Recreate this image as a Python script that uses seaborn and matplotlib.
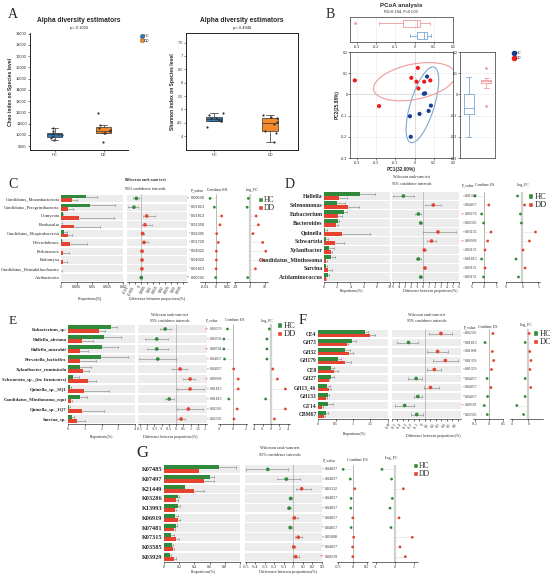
import numpy as np
import pandas as pd
import matplotlib
matplotlib.use('Agg')
import matplotlib.pyplot as plt
import seaborn as sns
from matplotlib.patches import Ellipse, Patch
from matplotlib.lines import Line2D
from matplotlib.transforms import blended_transform_factory as btf

sns.set_theme(style='white')
plt.rcParams['font.family'] = ['Liberation Sans', 'DejaVu Sans']

# ---------------- DATA ----------------
groups = ['HC', 'DD']
chao_hc = [9500, 9700, 9900, 10000, 10100, 10150, 10300, 10650]
chao_dd = [9400, 10150, 10200, 10350, 10400, 10650, 10850, 11950]
shan_hc = [4.33, 4.55, 4.58, 4.62, 4.66, 4.68, 4.79, 4.85]
shan_dd = [3.79, 4.13, 4.19, 4.45, 4.52, 4.66, 4.72, 4.79]
chao_p = 'p= 0.1033'
shan_p = 'p= 0.4948'

pc1_hc = [0.065, 0.048, 0.055, 0.085, 0.073, 0.026, -0.024, -0.020]
pc2_hc = [0.084, 0.003, 0.005, -0.053, -0.078, -0.092, -0.103, -0.200]
pc1_dd = [-0.311, -0.185, 0.017, -0.017, 0.010, 0.050, 0.020, 0.082]
pc2_dd = [0.066, -0.055, 0.125, 0.078, 0.060, 0.060, 0.028, 0.066]

C = dict(
    cats=['Candidatus_Moranbacteriota', 'Candidatus_Peregrinibacteria', 'Oomycota', 'Parabasalia',
          'Candidatus_Shapirobacteria', 'Heterolobosea', 'Perkinsozoa', 'Endomyxa',
          'Candidatus_Heimdallarchaeota', 'Atribacterota'],
    hc=[0.0081, 0.0094, 0.0005, 0.0001, 0.0011, 0.0002, 0.00005, 0.00005, 0.00003, 0.0001],
    hc_sd=[0.0034, 0.0081, 0.0002, 0.0001, 0.0009, 0.0001, 0, 0, 0, 0],
    dd=[0.0037, 0.0022, 0.0059, 0.0043, 0.0022, 0.0028, 0.0007, 0.0007, 0.0001, 0.00003],
    dd_sd=[0.0015, 0.0018, 0.0111, 0.0082, 0.0015, 0.0056, 0.0018, 0.0013, 0.0001, 0],
    diff=[-0.0042, -0.0062, 0.0044, 0.0030, 0.0010, 0.0022, 0.0005, 0.0005, 0.0004, -0.0001],
    lo=[-0.0068, -0.0110, 0.0010, 0.0002, 0.0002, 0.0002, 0.0001, 0.0001, 0.0, -0.0004],
    hi=[-0.0018, -0.0026, 0.0113, 0.0086, 0.0018, 0.0057, 0.0010, 0.0009, 0.0008, 0.0002],
    p=['0.00539', '0.01813', '0.01813', '0.01359', '0.02395', '0.01729', '0.04022', '0.04022', '0.01813', '0.00741'],
    es=[-0.0053, -0.0015, 0.0050, 0.0035, 0.0006, 0.0020, 0.0003, 0.0003, 0.0001, -0.0003],
    lfc=[-1.3, -2.1, 4.0, 5.5, 1.8, 8.4, 10.5, 8.4, 3.5, -1.7],
)
D = dict(
    cats=['Hallella', 'Selenomonas', 'Eubacterium', 'Bacteroides', 'Quinella', 'Schwartzia',
          'Xylanibacter', 'Candidatus_Minthosoma', 'Sarcina', 'Acidaminococcus'],
    hc=[5.5, 1.9, 2.96, 2.1, 0.15, 0.3, 0.77, 1.07, 0.3, 0.56],
    hc_sd=[2.3, 1.3, 0.5, 0.2, 0.25, 0.35, 0.8, 0.6, 0.2, 0.25],
    dd=[2.2, 3.6, 2.1, 1.8, 2.7, 1.7, 1.0, 0.3, 0.66, 0.25],
    dd_sd=[1.3, 1.7, 0.6, 0.35, 4.2, 1.3, 0.25, 0.1, 0.5, 0.1],
    diff=[-3.3, 1.7, -0.8, -0.4, 2.5, 1.4, 0.2, -0.8, 0.3, -0.4],
    lo=[-5.0, 0.3, -1.4, -0.6, 0.0, 0.6, -0.1, -1.2, 0.1, -0.6],
    hi=[-1.5, 3.0, -0.3, -0.2, 5.5, 2.2, 0.5, -0.4, 0.5, -0.2],
    p=['0.01359', '0.04057', '0.00276', '0.02395', '0.03132', '0.00368', '0.03132', '0.01813', '0.03132', '0.03132'],
    es=[-3.9, 1.9, -1.1, -0.3, 2.8, 1.4, 0.3, -1.1, 0.3, -0.3],
    lfc=[-1.5, 0.7, -0.6, -0.3, 4.1, 2.2, 0.2, -2.0, 0.85, -1.2],
)
E = dict(
    cats=['Eubacterium_sp.', 'Hallella_absiana', 'Hallella_mizrahii', 'Prevotella_lacticifex',
          'Xylanibacter_ruminicola', 'Schwartzia_sp._(in: firmicutes)', 'Quinella_sp._SQ1',
          'Candidatus_Minthosoma_equi', 'Quinella_sp._1Q7', 'Sarcina_sp.'],
    hc=[2.56, 2.16, 2.04, 1.96, 0.7, 0.3, 0.1, 0.7, 0.08, 0.24],
    hc_sd=[0.38, 1.0, 0.96, 1.64, 0.7, 0.36, 0.05, 0.44, 0.04, 0.1],
    dd=[1.84, 0.86, 0.7, 0.7, 0.9, 1.2, 0.96, 0.16, 0.86, 0.56],
    dd_sd=[0.36, 0.64, 0.5, 1.0, 0.36, 0.5, 1.5, 0.1, 1.28, 0.44],
    diff=[-0.76, -1.34, -1.34, -1.27, 0.28, 0.97, 0.97, -0.48, 0.85, 0.35],
    lo=[-1.15, -2.15, -2.03, -2.54, -0.3, 0.5, 0.05, -0.8, 0.05, 0.05],
    hi=[-0.35, -0.53, -0.58, 0.0, 0.74, 1.32, 1.9, -0.18, 1.85, 0.62],
    p=['0.00579', '0.03359', '0.00741', '0.04057', '0.04057', '0.00368', '0.01813', '0.01813', '0.02395', '0.02395'],
    es=[-0.85, -1.4, -1.4, -1.3, 0.1, 0.8, 0.8, -0.65, 0.65, 0.15],
    lfc=[-0.4, -1.0, -1.0, -1.0, 0.4, 1.5, 3.4, -1.3, 3.4, 0.8],
)
F = dict(
    cats=['CE4', 'GH73', 'GH32', 'GH179', 'CE8', 'GH27', 'GH13_46', 'GH133', 'GT14', 'CBM67'],
    hc=[1.33, 0.98, 0.78, 0.57, 0.38, 0.36, 0.25, 0.29, 0.29, 0.24],
    hc_sd=[0.11, 0.11, 0.12, 0.1, 0.08, 0.1, 0.1, 0.02, 0.14, 0.05],
    dd=[1.5, 0.83, 0.89, 0.78, 0.46, 0.3, 0.3, 0.24, 0.12, 0.17],
    dd_sd=[0.12, 0.02, 0.11, 0.15, 0.11, 0.02, 0.08, 0.02, 0.02, 0.02],
    diff=[0.29, -0.3, 0.23, 0.37, 0.17, -0.16, 0.1, -0.13, -0.37, -0.15],
    lo=[0.07, -0.5, 0.04, 0.15, 0.04, -0.3, -0.02, -0.2, -0.54, -0.26],
    hi=[0.5, -0.12, 0.41, 0.6, 0.29, -0.05, 0.26, -0.06, -0.2, -0.04],
    p=['0.02395', '0.01813', '0.01008', '0.01359', '0.01359', '0.04057', '0.04057', '0.04057', '0.00539', '0.02395'],
    es=[0.14, -0.14, 0.12, 0.17, 0.09, -0.07, 0.07, -0.05, -0.17, -0.06],
    lfc=[0.1, -0.4, 0.17, 0.33, 0.2, -0.4, 0.3, -0.4, -1.45, -0.6],
)
G = dict(
    cats=['K07485', 'K07497', 'K21449', 'K03286', 'K13993', 'K06919', 'K07481', 'K07315', 'K03585', 'K03929'],
    hc=[0.72, 0.6, 0.28, 0.18, 0.18, 0.15, 0.155, 0.09, 0.1, 0.085],
    hc_sd=[0.23, 0.06, 0.0, 0.02, 0.03, 0.04, 0.01, 0.035, 0.02, 0.01],
    dd=[0.46, 0.53, 0.39, 0.16, 0.15, 0.18, 0.13, 0.16, 0.12, 0.13],
    dd_sd=[0.0, 0.13, 0.13, 0.02, 0.01, 0.03, 0.01, 0.04, 0.01, 0.03],
    diff=[-0.27, -0.075, 0.086, -0.03, -0.045, 0.01, -0.035, 0.05, 0.003, 0.024],
    lo=[-0.5, -0.175, 0.024, -0.045, -0.065, -0.02, -0.05, 0.018, -0.01, 0.0],
    hi=[-0.055, 0.07, 0.18, -0.015, -0.025, 0.045, -0.02, 0.09, 0.015, 0.055],
    p=['0.04057', '0.04057', '0.03132', '0.04057', '0.04057', '0.04057', '0.04057', '0.01008', '0.04057', '0.00539'],
    es=[-0.33, -0.08, 0.08, -0.05, -0.06, 0.01, -0.05, 0.04, 0.005, 0.01],
    lfc=[-0.68, -0.18, 0.44, -0.14, -0.26, 0.21, -0.21, 0.9, 0.26, 0.54],
)

# ---------------- STYLE ----------------
W, H = 550, 579
fig = plt.figure(figsize=(5.5, 5.79), dpi=100)
PAL = {'HC': '#2f8a3b', 'DD': '#e5432f'}
STRIPE = '#ececec'
ERR = '#8a8a8a'
SERIF = 'Liberation Serif'
SANS = 'Liberation Sans'


def add_ax(x0, y0, x1, y1):
    return fig.add_axes([x0 / W, 1 - y1 / H, (x1 - x0) / W, (y1 - y0) / H])


def ftext(x, y, s, **kw):
    kw.setdefault('ha', 'center')
    kw.setdefault('va', 'center')
    fig.text(x / W, 1 - y / H, s, **kw)


def fmt(t):
    return '{:g}'.format(round(t, 4))


def bottom_only(ax, fs=3, family=SANS):
    for s in ['top', 'right', 'left']:
        ax.spines[s].set_visible(False)
    ax.spines['bottom'].set_color('black')
    ax.spines['bottom'].set_linewidth(0.4)
    ax.tick_params(axis='x', length=1.5, width=0.4, labelsize=fs, pad=0.8, color='black', bottom=True)
    ax.tick_params(axis='y', length=0)
    for lbl in ax.get_xticklabels():
        lbl.set_fontfamily(family)
    ax.set_xlabel('')
    ax.set_ylabel('')


def sq_legend(x, y, labels, fs):
    h = [Patch(facecolor=PAL['HC'], label=labels[0]), Patch(facecolor=PAL['DD'], label=labels[1])]
    fig.legend(handles=h, loc='upper left', bbox_to_anchor=(x / W, 1 - y / H), frameon=False,
               prop={'family': SERIF, 'size': fs}, handlelength=0.6, handleheight=0.6,
               handletextpad=0.2, labelspacing=0.05, borderpad=0, borderaxespad=0)


def stamp(d, c):
    cats = d['cats']
    n = len(cats)
    idx = np.arange(n)
    fam = c.get('family', SERIF)
    # ---- bars
    axb = add_ax(*c['bar'])
    for i in idx:
        axb.axhspan(i - 0.42, i + 0.42, color=STRIPE, lw=0, zorder=0)
    df = pd.DataFrame({'cat': cats * 2, 'grp': ['HC'] * n + ['DD'] * n,
                       'val': list(d['hc']) + list(d['dd'])})
    sns.barplot(data=df, y='cat', x='val', hue='grp', hue_order=groups, palette=PAL, orient='h',
                width=0.8, errorbar=None, legend=False, ax=axb, saturation=1, linewidth=0)
    for cont, sd in zip(axb.containers, (d['hc_sd'], d['dd_sd'])):
        for p, s in zip(cont.patches, sd):
            if s <= 0:
                continue
            yc = p.get_y() + p.get_height() / 2
            w = p.get_width()
            axb.plot([w, w + s], [yc, yc], color=ERR, lw=0.45, zorder=3)
            axb.plot([w + s] * 2, [yc - 0.12, yc + 0.12], color=ERR, lw=0.45, zorder=3)
    axb.set_ylim(n - 0.5, -0.5)
    axb.set_xlim(*c['bar_xlim'])
    axb.set_xticks(c['bar_ticks'], [fmt(t) for t in c['bar_ticks']])
    bottom_only(axb, c.get('tfs', 3), fam)
    axb.set_yticks(idx, cats, fontsize=c['cfs'], fontfamily=c.get('cfam', SERIF),
                   fontweight=c.get('cw', 'bold'))
    axb.tick_params(axis='y', pad=1)
    # ---- difference
    axd = add_ax(*c['diff'])
    for i in idx:
        axd.axhspan(i - 0.42, i + 0.42, color=STRIPE, lw=0, zorder=0)
    axd.axvline(0, color='#9a9a9a', lw=0.4, zorder=1)
    diff = np.asarray(d['diff'])
    lo = np.asarray(d['lo'])
    hi = np.asarray(d['hi'])
    axd.hlines(idx, lo, hi, color=ERR, lw=0.45, zorder=2)
    axd.vlines(np.r_[lo, hi], np.r_[idx, idx] - 0.12, np.r_[idx, idx] + 0.12, color=ERR, lw=0.45, zorder=2)
    grp = np.where(diff < 0, 'HC', 'DD')
    sns.scatterplot(x=diff, y=idx, hue=grp, palette=PAL, s=c.get('ms', 7), linewidth=0, legend=False,
                    ax=axd, zorder=4)
    axd.set_ylim(n - 0.5, -0.5)
    axd.set_xlim(*c['diff_xlim'])
    axd.set_yticks([])
    rot = c.get('rot', 0)
    axd.set_xticks(c['diff_ticks'], [fmt(t) for t in c['diff_ticks']])
    bottom_only(axd, c.get('tfs', 3), fam)
    if rot:
        for lbl in axd.get_xticklabels():
            lbl.set_rotation(rot)
            lbl.set_ha('right')
    # ---- p values
    tr = btf(fig.transFigure, axd.transData)
    for i, pv in enumerate(d['p']):
        st = '**' if float(pv) < 0.01 else '*'
        fig.text(c['star_x'] / W, i, st, color='#e5432f', ha='right', va='center', fontsize=c.get('pfs', 3),
                 transform=tr, fontfamily=fam)
        fig.text(c['p_x'] / W, i, pv, color='#333333', ha='left', va='center', fontsize=c.get('pfs', 3),
                 transform=tr, fontfamily=fam)
    # ---- effect size and log fold change
    for key, box, xl, tk, zero_style in (('es', c['es'], c['es_xlim'], c['es_ticks'], 'line'),
                                         ('lfc', c['lfc'], c['lfc_xlim'], c['lfc_ticks'], 'band')):
        ax = add_ax(*box)
        v = np.asarray(d[key])
        if zero_style == 'line':
            ax.axvline(0, color='#9a9a9a', lw=0.5, zorder=1)
        else:
            ax.axvline(0, color='#d0d0d0', lw=1.6, zorder=1)
        ax.hlines(idx, 0, v, color='#dddddd', lw=0.4, zorder=2)
        g = np.where(v < 0, 'HC', 'DD')
        sns.scatterplot(x=v, y=idx, hue=g, palette=PAL, s=c.get('ms2', 4), linewidth=0, legend=False,
                        ax=ax, zorder=4)
        ax.set_ylim(n - 0.5, -0.5)
        ax.set_xlim(*xl)
        ax.set_yticks([])
        ax.set_xticks(tk, [fmt(t) for t in tk])
        bottom_only(ax, c.get('tfs', 3), fam)
    # ---- texts
    hf = c.get('hfs', 3)
    ftext(c['title_x'], c['title_y'][0], 'Wilcoxon rank-sum test', fontsize=hf, fontfamily=fam,
          fontweight=c.get('tw', 'normal'))
    ftext(c['title_x'], c['title_y'][1], '95% confidence intervals', fontsize=hf, fontfamily=fam)
    for s, x, y in c['heads']:
        ftext(x, y, s, fontsize=hf, fontfamily=fam)
    ftext(c['xl1'][0], c['xl1'][1], 'Proportions(%)', fontsize=hf, fontfamily=fam)
    ftext(c['xl2'][0], c['xl2'][1], 'Difference between proportions(%)', fontsize=hf, fontfamily=fam)
    ftext(c['letter'][0], c['letter'][1], c['letter'][2], fontsize=c['letter'][3], fontfamily=SERIF)
    sq_legend(c['leg'][0], c['leg'][1], c.get('leg_labels', ['HC', 'DD']), c['leg'][2])


# ---------------- PANEL A ----------------
APAL = {'HC': '#2f78bd', 'DD': '#f28a2a'}
ftext(13, 14, 'A', fontsize=10, fontfamily=SERIF)
for (x0, x1, vals_hc, vals_dd, ylim, yt, ylab, pt, full) in (
        (30, 128, chao_hc, chao_dd, (8650, 19050), np.arange(9000, 19001, 1000), 'Chao index on Species level', chao_p, False),
        (186, 298, shan_hc, shan_dd, (3.48, 7.86), np.arange(4, 7.51, 0.5), 'Shannon index on Species level', shan_p, True)):
    ax = add_ax(x0, 33, x1, 150)
    dfa = pd.DataFrame({'group': ['HC'] * len(vals_hc) + ['DD'] * len(vals_dd), 'value': vals_hc + vals_dd})
    sns.boxplot(data=dfa, x='group', y='value', hue='group', order=groups, hue_order=groups, palette=APAL,
                width=0.3, fliersize=0, linewidth=0.5, linecolor='#333333', ax=ax, legend=False, saturation=1)
    sns.stripplot(data=dfa, x='group', y='value', order=groups, color='#333333', size=1.6, jitter=0.18, ax=ax)
    ax.set_ylim(*ylim)
    ax.set_yticks(yt, [fmt(t) for t in yt])
    for s in ['left', 'bottom', 'top', 'right']:
        ax.spines[s].set_color('#222222')
        ax.spines[s].set_linewidth(0.7)
    if not full:
        ax.spines['top'].set_visible(False)
        ax.spines['right'].set_visible(False)
    ax.tick_params(length=1.5, width=0.4, labelsize=2.8, pad=0.8, left=True, bottom=True)
    ax.set_xlabel('')
    ax.set_ylabel(ylab, fontsize=3.6, fontweight='bold', labelpad=2)
    xc = (x0 + x1) / 2
    ftext(xc, 20.5, 'Alpha diversity estimators', fontsize=4.8, fontweight='bold')
    ftext(xc, 28, pt, fontsize=3)
hA = [Line2D([], [], marker='o', ls='', markerfacecolor=APAL[g], markeredgecolor='#555555', markeredgewidth=0.3,
             markersize=3.2, label=g) for g in groups]
fig.legend(handles=hA, loc='upper left', bbox_to_anchor=(140 / W, 1 - 34 / H), frameon=False,
           prop={'size': 2.8}, handletextpad=0.1, labelspacing=0.2, borderpad=0, borderaxespad=0, handlelength=0.8)

# ---------------- PANEL B ----------------
BPT = {'HC': '#173f94', 'DD': '#ec1c1c'}
BLN = {'HC': '#7fa6d2', 'DD': '#f29a9a'}
ftext(330, 14, 'B', fontsize=10, fontfamily=SERIF)
dfp = pd.DataFrame({'group': ['HC'] * len(pc1_hc) + ['DD'] * len(pc1_dd),
                    'PC1': pc1_hc + pc1_dd, 'PC2': pc2_hc + pc2_dd})


def trob(X, nu=5, iters=100):
    n_, p_ = X.shape
    loc = X.mean(0)
    cov = np.cov(X.T)
    for _ in range(iters):
        dd_ = X - loc
        m = np.einsum('ij,jk,ik->i', dd_, np.linalg.inv(cov), dd_)
        w = (nu + p_) / (nu + m)
        loc = (w[:, None] * X).sum(0) / w.sum()
        dd_ = X - loc
        cov = (w[:, None] * dd_).T @ dd_ / n_
    return loc, cov


def f_quantile_2(level, dfd):
    # quantile of F(2, dfd)
    return dfd / 2 * ((1 - level) ** (-2 / dfd) - 1)


def style_b(ax):
    for s in ax.spines.values():
        s.set_color('#333333')
        s.set_linewidth(0.5)
    ax.grid(True, color='#e8e8e8', lw=0.4)
    ax.tick_params(length=1.2, width=0.4, labelsize=2.6, pad=0.6, left=True, bottom=True)
    ax.set_xlabel('')
    ax.set_ylabel('')


axm = add_ax(350, 52, 453, 158)
axm.axvline(0, color='#aaaaaa', lw=0.5, ls=':')
axm.axhline(0, color='#aaaaaa', lw=0.5, ls=':')
for g in groups:
    X = dfp.loc[dfp.group == g, ['PC1', 'PC2']].to_numpy()
    loc, cov = trob(X)
    r = np.sqrt(2 * f_quantile_2(0.88, len(X) - 1))
    ev, evec = np.linalg.eigh(cov)
    ang = np.degrees(np.arctan2(evec[1, 1], evec[0, 1]))
    axm.add_patch(Ellipse(loc, 2 * r * np.sqrt(ev[1]), 2 * r * np.sqrt(ev[0]), angle=ang, fill=False,
                          edgecolor=BLN[g], lw=0.8))
sns.scatterplot(data=dfp, x='PC1', y='PC2', hue='group', hue_order=groups, palette=BPT, s=9, linewidth=0,
                legend=False, ax=axm, zorder=5)
axm.set_xlim(-0.336, 0.2)
axm.set_ylim(-0.3, 0.2)
axm.set_xticks(np.arange(-0.3, 0.21, 0.1), [fmt(t) for t in np.arange(-0.3, 0.21, 0.1)])
axm.set_yticks(np.arange(-0.3, 0.21, 0.1), [fmt(t) for t in np.arange(-0.3, 0.21, 0.1)])
style_b(axm)
axm.set_xlabel('PC1(32.00%)', fontsize=3.4, fontweight='bold', labelpad=1.5)
axm.set_ylabel('PC2(25.88%)', fontsize=3.4, fontweight='bold', labelpad=1.5)

axt = add_ax(350, 17, 453, 42)
sns.boxplot(data=dfp, x='PC1', y='group', hue='group', order=['DD', 'HC'], hue_order=groups, palette=BLN,
            fill=False, width=0.55, linewidth=0.6, fliersize=1, ax=axt, legend=False)
axt.set_xlim(-0.336, 0.2)
axt.set_xticks(np.arange(-0.3, 0.21, 0.1), [fmt(t) for t in np.arange(-0.3, 0.21, 0.1)])
axt.set_yticks([])
style_b(axt)

axr = add_ax(460, 52, 495, 158)
sns.boxplot(data=dfp, x='group', y='PC2', hue='group', order=groups, hue_order=groups, palette=BLN,
            fill=False, width=0.55, linewidth=0.6, fliersize=1, ax=axr, legend=False)
axr.set_ylim(-0.3, 0.2)
axr.set_yticks(np.arange(-0.3, 0.21, 0.1), [fmt(t) for t in np.arange(-0.3, 0.21, 0.1)])
axr.set_xticks([])
style_b(axr)
ftext(401, 5.5, 'PCoA analysis', fontsize=4.4, fontweight='bold')
ftext(401, 12, 'R2=0.194, P=0.003', fontsize=2.8)
hB = [Line2D([], [], marker='o', ls='', color=BPT[g], markersize=3, label=g) for g in groups]
fig.legend(handles=hB, loc='upper left', bbox_to_anchor=(512 / W, 1 - 51 / H), frameon=False,
           prop={'size': 2.8}, handletextpad=0.1, labelspacing=0.25, borderpad=0, borderaxespad=0, handlelength=0.8)

# ---------------- PANELS C-G ----------------
stamp(C, dict(letter=(13, 185, 'C', 10), bar=(61, 194, 123, 282), diff=(127, 194, 187, 282),
              es=(200, 194, 230, 282), lfc=(234, 194, 268, 282),
              bar_xlim=(0, 0.02), bar_ticks=[0, 0.005, 0.01, 0.015, 0.02],
              diff_xlim=(-0.012, 0.038), diff_ticks=list(np.arange(-0.01, 0.0351, 0.005)), rot=60,
              es_xlim=(-0.0142, 0.0124), es_ticks=[-0.01, 0, 0.01],
              lfc_xlim=(-11, 12), lfc_ticks=[-10, 0, 10],
              star_x=190, p_x=190.5, cfs=3.3, cw='normal', cfam=SERIF, family=SANS, tfs=2.6, pfs=2.8,
              hfs=2.6, tw='bold',
              title_x=145, title_y=(180, 189),
              heads=[('P_value', 197, 190), ('Combine ES', 217, 190), ('Log_FC', 252, 190)],
              xl1=(90, 299), xl2=(157, 299), leg=(258, 196, 5.5)))

stamp(D, dict(letter=(290, 185, 'D', 10), bar=(324, 191.5, 390, 281.5), diff=(392, 191.5, 459, 281.5),
              es=(472, 191.5, 497, 281.5), lfc=(506, 191.5, 540, 281.5),
              bar_xlim=(0, 10), bar_ticks=[0, 2, 4, 6, 8, 10],
              diff_xlim=(-5.2, 6), diff_ticks=list(range(-5, 7)),
              es_xlim=(-5.1, 5.3), es_ticks=[-5, 0, 5],
              lfc_xlim=(-5.1, 5.5), lfc_ticks=[-5, 0, 5],
              star_x=464.5, p_x=465, cfs=4.2, tfs=2.8, pfs=2.8, hfs=2.8,
              title_x=412, title_y=(177, 184),
              heads=[('P_value', 468, 185), ('Combine ES', 485, 185), ('Log_FC', 523, 185)],
              xl1=(352, 291), xl2=(430, 291), leg=(528, 193, 6)))

stamp(E, dict(letter=(13, 321, 'E', 9.5), bar=(68, 324, 135, 424), diff=(138, 324, 207, 424),
              es=(218, 324, 247, 424), lfc=(253, 324, 290, 424),
              bar_xlim=(0, 4), bar_ticks=[0, 1, 2, 3, 4],
              diff_xlim=(-2.64, 2.14), diff_ticks=list(np.arange(-2.5, 2.01, 0.5)),
              es_xlim=(-2.3, 2.15), es_ticks=[-2, 0, 2],
              lfc_xlim=(-4.3, 4.5), lfc_ticks=[-4, -2, 0, 2, 4],
              star_x=209, p_x=209.5, cfs=3.4, tfs=2.8, pfs=2.8, hfs=2.8,
              title_x=170, title_y=(315, 321),
              heads=[('P_value', 212, 320), ('Combine ES', 235, 320), ('Log_FC', 267, 321)],
              xl1=(102, 437), xl2=(170, 437), leg=(277, 322, 6)))

stamp(F, dict(letter=(303, 320, 'F', 10.5), bar=(318, 329, 388, 419), diff=(392, 329, 461, 419),
              es=(473, 329, 503, 419), lfc=(510, 329, 543, 419),
              bar_xlim=(0, 2), bar_ticks=[0, 0.5, 1, 1.5, 2],
              diff_xlim=(-0.6, 0.655), diff_ticks=list(np.arange(-0.6, 0.61, 0.1)), rot=60,
              es_xlim=(-0.57, 0.5), es_ticks=[-0.5, 0, 0.5],
              lfc_xlim=(-2.3, 1.84), lfc_ticks=[-2, 0],
              star_x=464.5, p_x=465, cfs=4.0, tfs=2.8, pfs=2.8, hfs=2.8,
              title_x=427, title_y=(315, 321),
              heads=[('P_value', 470, 327), ('Combine ES', 488, 327), ('Log_FC', 526, 325)],
              xl1=(355, 434), xl2=(433, 436), leg=(533, 330, 6), leg_labels=['HC', 'DC']))

stamp(G, dict(letter=(142, 453, 'G', 12), bar=(164, 464.5, 240, 561.5), diff=(245, 464.5, 322, 561.5),
              es=(337, 464.5, 368, 561.5), lfc=(372, 464.5, 418, 561.5),
              bar_xlim=(0, 1), bar_ticks=[0, 0.2, 0.4, 0.6, 0.8, 1],
              diff_xlim=(-0.51, 0.3), diff_ticks=list(np.arange(-0.5, 0.31, 0.1)),
              es_xlim=(-0.55, 0.55), es_ticks=[-0.5, 0, 0.5],
              lfc_xlim=(-1.2, 1.2), lfc_ticks=[-1, 0, 1],
              star_x=324, p_x=325, cfs=4.5, tfs=3.0, pfs=3.0, hfs=3.0,
              title_x=280, title_y=(448, 455),
              heads=[('P_value', 329, 460), ('Combine ES', 357, 460), ('Log_FC', 392, 458)],
              xl1=(203, 572), xl2=(288, 572), leg=(413, 462, 5.5)))

fig.savefig('out.png', dpi=100)
